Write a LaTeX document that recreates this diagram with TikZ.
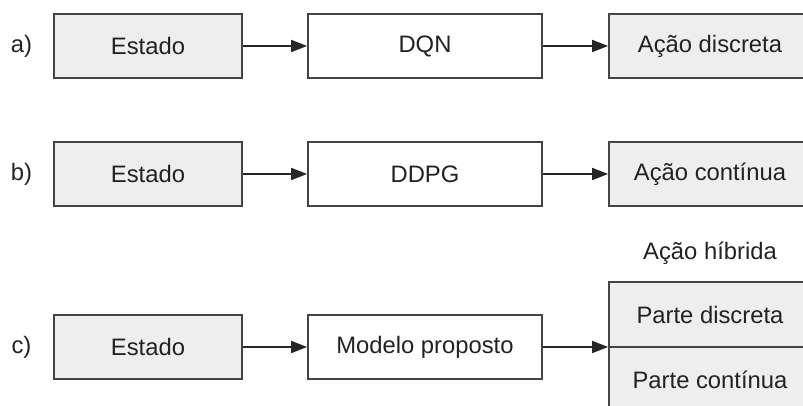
\documentclass[tikz,border=0pt]{standalone}
\usepackage{fontspec}
\setmainfont{Liberation Sans}
\usetikzlibrary{arrows.meta}
\definecolor{boxfill}{HTML}{EEEEEE}
\definecolor{boxline}{HTML}{444444}
\definecolor{txt}{HTML}{222222}
\tikzset{
  blk/.style={draw=boxline, line width=1.7pt, minimum height=64pt, inner sep=0pt,
    font=\fontsize{23.8}{28}\selectfont, text=txt},
  grayblk/.style={blk, fill=boxfill},
  whiteblk/.style={blk, fill=white},
  inbox/.style={grayblk, minimum width=188pt},
  midbox/.style={whiteblk, minimum width=234pt},
  outbox/.style={grayblk, minimum width=202pt},
  tag/.style={font=\fontsize{23.8}{28}\selectfont, text=txt},
  flow/.style={draw=black!85, line width=1.7pt, -{Triangle[length=16pt,width=12pt]}}
}
\begin{document}
\begin{tikzpicture}[x=1pt,y=-1pt]
\useasboundingbox (0,0) rectangle (803,406);
\clip (0,0) rectangle (803,406);

% a) DQN
\node[tag] (la) at (21.5,46) {a)};
\node[inbox]  (ea) at (148,46) {Estado};
\node[midbox] (ma) at (425,46) {DQN};
\node[outbox] (oa) at (710,46) {Ação discreta};
\draw[flow] (ea) -- (ma);
\draw[flow] (ma) -- (oa);

% b) DDPG
\node[tag] (lb) at (21.5,174) {b)};
\node[inbox]  (eb) at (148,174) {Estado};
\node[midbox] (mb) at (425,174) {DDPG};
\node[outbox] (ob) at (710,174) {Ação contínua};
\draw[flow] (eb) -- (mb);
\draw[flow] (mb) -- (ob);

% c) proposed model with hybrid action
\node[tag] (lc) at (21.5,347) {c)};
\node[inbox]  (ec) at (148,347) {Estado};
\node[midbox] (mc) at (425,347) {Modelo proposto};
\node[outbox, minimum height=65pt] (hd) at (710,314.5) {Parte discreta};
\node[outbox, minimum height=65pt] (hc) at (710,379.5) {Parte contínua};
\node[tag] (ht) at (710,253) {Ação híbrida};
\coordinate (hin) at (hd.west |- mc.east);
\draw[flow] (ec) -- (mc);
\draw[flow] (mc) -- (hin);
\end{tikzpicture}
\end{document}
